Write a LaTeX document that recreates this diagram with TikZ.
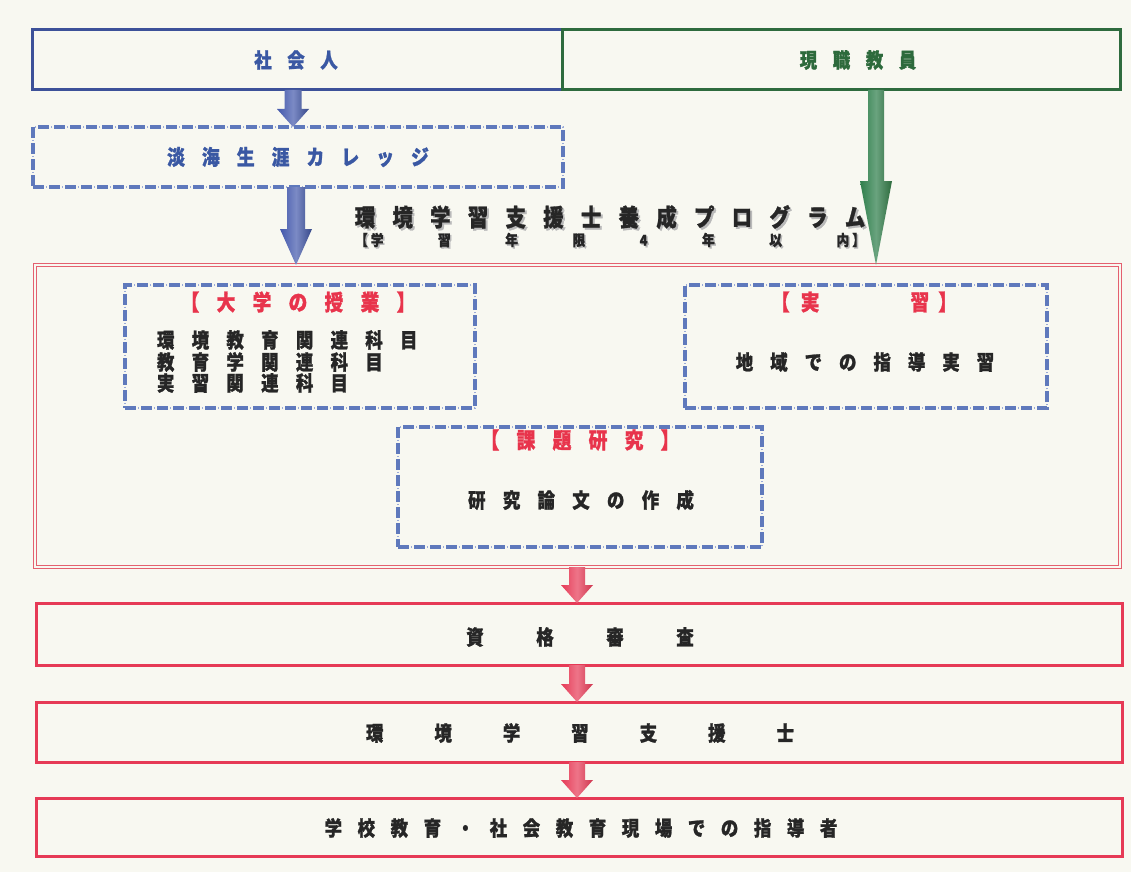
\documentclass[tikz,border=0pt]{standalone}
\usepackage{fontspec}
\setmainfont{Noto Sans CJK JP}[FakeStretch=0.85, FakeBold=1.2]
\usetikzlibrary{calc}
\definecolor{bg}{HTML}{F8F8F1}
\definecolor{bluel}{HTML}{3D5199}
\definecolor{bluet}{HTML}{3A58A3}
\definecolor{bluea}{HTML}{4358AC}
\definecolor{greenl}{HTML}{2E6B3E}
\definecolor{greena}{HTML}{2F7F4C}
\definecolor{greent}{HTML}{2D6A3C}
\definecolor{airc}{HTML}{5F79BC}
\definecolor{airl}{HTML}{9AAAD8}
\definecolor{redb}{HTML}{E63A56}
\definecolor{redd}{HTML}{E4606F}
\definecolor{redt}{HTML}{E8344C}
\definecolor{txt}{HTML}{262626}
\makeatletter
\newcommand\gtext[2]{\def\gt@gap{#1}\gt@first#2\gt@end}
\def\gt@end{gt@end}
\def\gt@first#1{#1\gt@next}
\def\gt@next#1{\ifx#1\gt@end\else\hspace{\gt@gap}#1\expandafter\gt@next\fi}
\makeatother
\newcommand\blockarrow[6]{%
  \shade[#1] ([xshift=-#4]#2) -- ([xshift=-#4,yshift=#6]#3) -- ([xshift=-#5,yshift=#6]#3) -- (#3)
   -- ([xshift=#5,yshift=#6]#3) -- ([xshift=#4,yshift=#6]#3) -- ([xshift=#4]#2) -- cycle;}
\tikzset{
  box/.style={draw, rectangle, inner sep=0pt, outer sep=0pt, line width=3pt},
  air/.style={draw=airc, rectangle, inner sep=0pt, outer sep=0pt, line width=3.2pt,
    dash pattern=on 11pt off 5pt,
    postaction={draw=airl, line width=1.2pt, dash pattern=on 1.5pt off 14.5pt, dash phase=3.25pt}},
  lbl/.style={inner sep=0pt, outer sep=0pt, font=\bfseries\fontsize{20.5pt}{23pt}\selectfont, text=txt},
  head/.style={inner sep=0pt, outer sep=0pt, font=\bfseries\fontsize{22pt}{25pt}\selectfont, text=redt},
  bluearrow/.style={left color=bluea, right color=bluel!90!black, middle color=bluea!70},
  greenarrow/.style={left color=greena, right color=greenl, middle color=greena!72},
  redarrow/.style={left color=redb, right color=redb!90!black, middle color=redb!70},
}
\begin{document}
\begin{tikzpicture}[x=1pt,y=-1pt]
\fill[bg] (0,0) rectangle (1131,872);
\useasboundingbox (0,0) rectangle (1131,872);

% top boxes
\node[box, draw=bluel, minimum width=530, minimum height=60] (shajin) at (297,60) {};
\node[box, draw=greenl, minimum width=558, minimum height=60] (genshoku) at (841,60) {};
\node[lbl, text=bluet] (tshajin) at (296,60) {\gtext{15.6pt}{社会人}};
\node[lbl, text=greent] (tgen) at (858,60) {\gtext{15.6pt}{現職教員}};

% college box
\node[air, minimum width=530, minimum height=60] (tanhai) at (298,157) {};
\node[lbl, text=bluet, font=\bfseries\fontsize{21pt}{23pt}\selectfont] (ttanhai) at (298,157) {\gtext{17pt}{淡海生涯カレッジ}};

% program title
\node[lbl, text=gray!55, font=\bfseries\fontsize{24pt}{27pt}\selectfont] (titlesh) at (612,219) {\gtext{17.3pt}{環境学習支援士養成プログラム}};
\node[lbl, text=txt, font=\bfseries\fontsize{24pt}{27pt}\selectfont] (title) at (610,217) {\gtext{17.3pt}{環境学習支援士養成プログラム}};
\node[lbl, text=gray!55, font=\bfseries\fontsize{15pt}{17pt}\selectfont] (subsh) at (611.5,241.5) {\makebox[510pt][s]{【\hspace{3pt}学\hfill 習\hfill 年\hfill 限\hfill 4\hfill 年\hfill 以\hfill 内\hspace{3pt}】}};
\node[lbl, text=txt, font=\bfseries\fontsize{15pt}{17pt}\selectfont] (sub) at (610,240) {\makebox[510pt][s]{【\hspace{3pt}学\hfill 習\hfill 年\hfill 限\hfill 4\hfill 年\hfill 以\hfill 内\hspace{3pt}】}};

% program double box
\node[draw=redd, double=bg, double distance=2.5pt, line width=1pt, rectangle, inner sep=0pt, outer sep=0pt,
      minimum width=1085, minimum height=302] (program) at (577.5,416) {};

% inner boxes
\node[air, minimum width=350, minimum height=123] (daigaku) at (300,346.5) {};
\node[head] (hdaigaku) at (298,302) {\gtext{17.3pt}{【大学の授業】}};
\node[lbl, anchor=west] (l1) at (157,340) {\gtext{17.3pt}{環境教育関連科目}};
\node[lbl, anchor=west] (l2) at (157,362) {\gtext{17.3pt}{教育学関連科目}};
\node[lbl, anchor=west] (l3) at (157,383) {\gtext{17.3pt}{実習関連科目}};

\node[air, minimum width=362, minimum height=123] (jisshu) at (866,346.5) {};
\node[head] (hjisshu) at (864,302) {【\hspace{11pt}実\hspace{91pt}習\hspace{9pt}】};
\node[lbl] (tjisshu) at (865,362) {\gtext{17pt}{地域での指導実習}};

\node[air, minimum width=364, minimum height=120] (kadai) at (580,487) {};
\node[head] (hkadai) at (580,440) {\gtext{17.3pt}{【課題研究】}};
\node[lbl] (tkadai) at (581,500) {\gtext{17.3pt}{研究論文の作成}};

% lower boxes
\node[box, draw=redb, minimum width=1086, minimum height=62] (shikaku) at (579,634) {};
\node[lbl] (tshikaku) at (580,637) {\gtext{52.6pt}{資格審査}};
\node[box, draw=redb, minimum width=1086, minimum height=60] (shien) at (579,732) {};
\node[lbl] (tshien) at (580,733) {\gtext{51pt}{環境学習支援士}};
\node[box, draw=redb, minimum width=1086, minimum height=58] (shidou) at (579,827) {};
\node[lbl] (tshidou) at (581,828) {\gtext{15.6pt}{学校教育・社会教育現場での指導者}};

% arrow coordinates
\coordinate (ax1) at (293,0);
\coordinate (ax2) at (296,0);
\coordinate (ax3) at (876,0);
\coordinate (ax4) at (577,0);
\coordinate (a1t) at (ax1 |- shajin.south);
\coordinate (a1b) at (ax1 |- tanhai.north);
\coordinate (a2t) at (ax2 |- tanhai.south);
\coordinate (a2b) at (ax2 |- program.north);
\coordinate (a3t) at (ax3 |- genshoku.south);
\coordinate (a3b) at (ax3 |- program.north);
\coordinate (a4t) at (ax4 |- program.south);
\coordinate (a4b) at (ax4 |- shikaku.north);
\coordinate (a5t) at (ax4 |- shikaku.south);
\coordinate (a5b) at (ax4 |- shien.north);
\coordinate (a6t) at (ax4 |- shien.south);
\coordinate (a6b) at (ax4 |- shidou.north);

\blockarrow{bluearrow}{a1t}{a1b}{8.5pt}{16pt}{18pt}
\blockarrow{bluearrow}{a2t}{a2b}{9pt}{16pt}{36pt}
\blockarrow{greenarrow}{a3t}{a3b}{8pt}{16pt}{84pt}
\blockarrow{redarrow}{a4t}{a4b}{8pt}{16pt}{18pt}
\blockarrow{redarrow}{a5t}{a5b}{8pt}{16pt}{18pt}
\blockarrow{redarrow}{a6t}{a6b}{8pt}{16pt}{18pt}
\end{tikzpicture}
\end{document}
